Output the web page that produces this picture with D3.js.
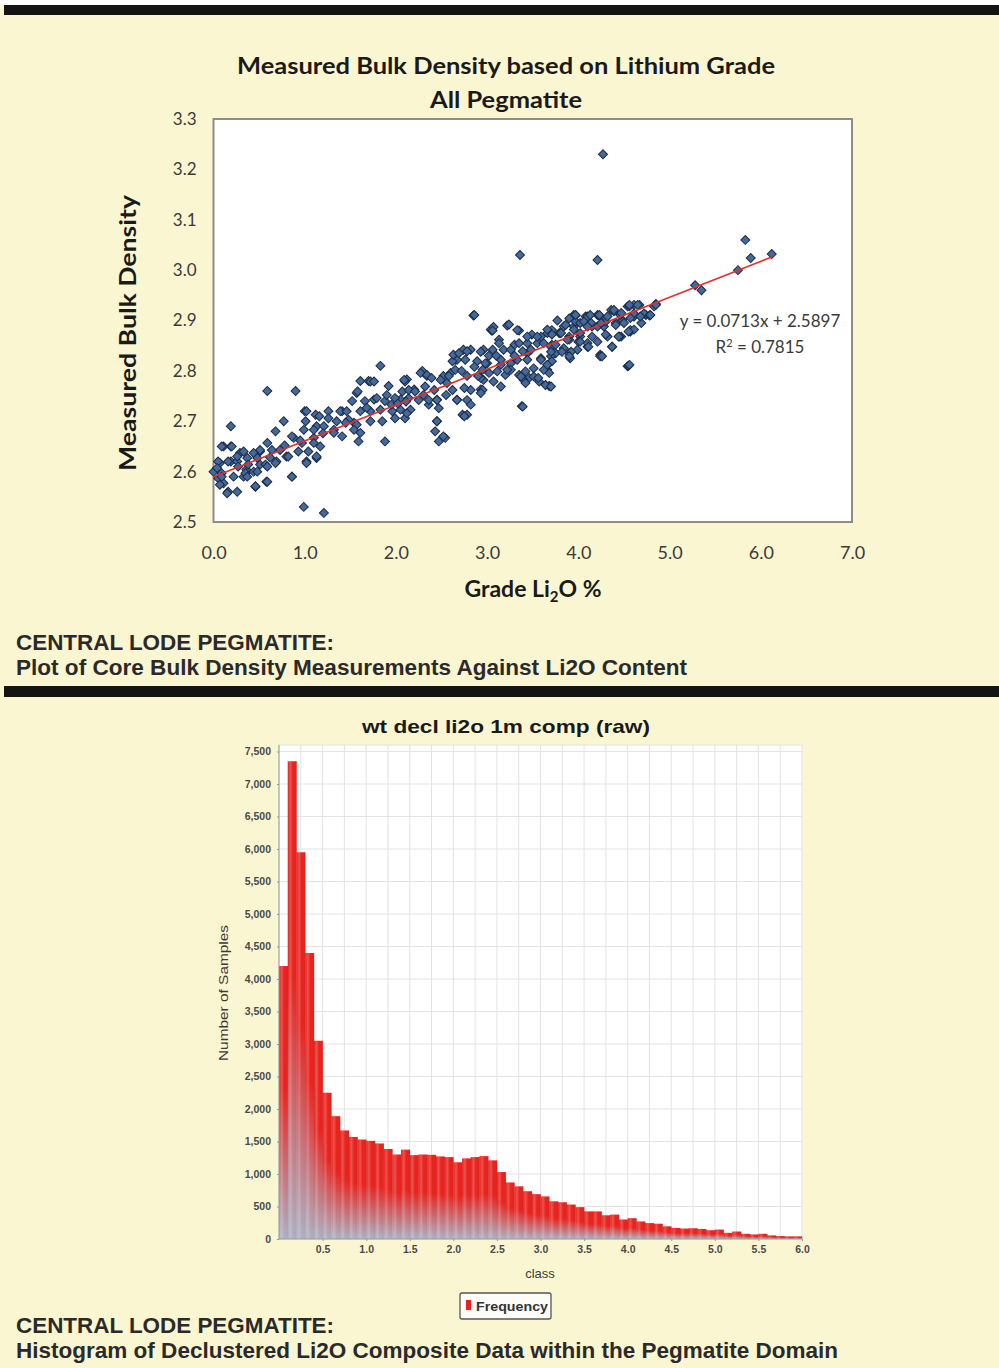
<!DOCTYPE html>
<html><head><meta charset="utf-8">
<script src="https://cdn.jsdelivr.net/npm/d3@7"></script>
<style>html,body{margin:0;padding:0;background:#fff;}svg{display:block;}</style>
</head><body>
<script>
// ---------- DATA ----------
const scatterTitle = ["Measured Bulk Density based on Lithium Grade", "All Pegmatite"];
const scatterXTicks = [0, 1, 2, 3, 4, 5, 6, 7];
const scatterYTicks = [2.5, 2.6, 2.7, 2.8, 2.9, 3.0, 3.1, 3.2, 3.3];
const trendSlope = 0.0713, trendIntercept = 2.5897, trendR2 = 0.7815;
// [Li2O grade %, measured bulk density]
const samples = [
[0.00,2.600],[0.07,2.617],[0.05,2.587],[0.11,2.577],[0.09,2.597],[0.16,2.560],[0.26,2.560],[0.19,2.690],[0.11,2.650],[0.19,2.650],
[0.19,2.620],[0.26,2.620],[0.29,2.637],[0.36,2.604],[0.33,2.590],[0.44,2.600],[0.46,2.570],[0.51,2.640],[0.51,2.614],[0.58,2.580],
[0.59,2.760],[0.59,2.657],[0.68,2.680],[0.69,2.620],[0.77,2.700],[0.80,2.630],[0.86,2.590],[0.90,2.760],[0.88,2.667],[0.99,2.530],
[1.21,2.518],[1.00,2.720],[1.02,2.620],[1.13,2.627],[1.12,2.713],[1.10,2.667],[1.26,2.720],[1.32,2.683],[1.41,2.720],[1.54,2.697],
[1.57,2.756],[1.61,2.780],[1.70,2.780],[1.59,2.660],[1.83,2.810],[1.76,2.743],[1.88,2.660],[1.85,2.700],[1.92,2.770],[2.05,2.743],
[2.12,2.783],[2.20,2.763],[2.29,2.800],[2.34,2.790],[2.36,2.733],[2.45,2.743],[2.47,2.660],[2.54,2.667],[2.45,2.700],[2.52,2.790],
[2.65,2.822],[2.67,2.743],[2.73,2.713],[2.74,2.842],[2.78,2.790],[2.85,2.910],[2.93,2.763],[3.05,2.880],[3.22,2.890],[3.35,2.880],
[3.38,2.730],[3.36,3.030],[3.77,2.900],[3.68,2.770],[3.97,2.910],
[1.72,2.779],[1.76,2.779],[1.58,2.759],[2.10,2.779],[2.07,2.759],[1.52,2.740],[1.66,2.740],[1.79,2.746],[1.88,2.740],[1.99,2.746],
[2.14,2.746],[1.61,2.720],[1.72,2.720],[1.83,2.723],[1.96,2.720],[2.05,2.723],[2.16,2.723],[1.39,2.720],[1.46,2.720],[1.02,2.720],
[1.99,2.706],[2.10,2.706],[1.72,2.700],[1.57,2.693],[1.48,2.703],[1.16,2.710],[1.26,2.706],[1.01,2.700],[1.13,2.690],[0.86,2.670],
[0.99,2.683],[1.10,2.683],[1.21,2.690],[1.32,2.677],[1.41,2.670],[1.54,2.683],[1.61,2.677],[0.97,2.657],[1.10,2.657],[1.17,2.650],
[0.09,2.650],[0.20,2.650],[0.33,2.640],[0.44,2.637],[0.51,2.643],[0.64,2.643],[0.73,2.643],[0.82,2.630],[0.93,2.640],[1.04,2.640],
[1.13,2.630],[0.26,2.630],[0.37,2.627],[0.48,2.627],[0.05,2.620],[0.16,2.620],[0.27,2.610],[0.38,2.614],[0.57,2.614],[0.68,2.617],
[1.02,2.617],[0.04,2.607],[0.35,2.597],[0.48,2.600],[0.59,2.610],[0.09,2.590],[0.22,2.590],[0.37,2.590],[0.86,2.590],[0.07,2.574],
[0.15,2.557],[0.46,2.571],[0.59,2.580],
[2.86,2.911],[3.24,2.892],[3.04,2.882],[3.13,2.862],[3.06,2.842],[2.96,2.842],[2.82,2.842],[2.76,2.822],[2.67,2.822],[2.62,2.819],
[2.89,2.819],[3.00,2.815],[3.15,2.812],[3.26,2.815],[3.33,2.822],[3.44,2.835],[3.55,2.855],[3.66,2.875],[3.79,2.875],[3.95,2.888],
[4.08,2.908],[4.21,2.911],[4.36,2.921],[4.54,2.928],[4.61,2.931],[4.74,2.911],[4.83,2.928],[3.95,2.911],[3.90,2.868],[4.02,2.868],
[4.15,2.888],[4.28,2.888],[4.41,2.895],[4.48,2.901],[4.61,2.908],[4.69,2.895],[4.57,2.878],[4.47,2.868],[4.32,2.868],[4.21,2.858],
[4.10,2.848],[3.99,2.842],[3.84,2.845],[3.71,2.852],[3.59,2.868],[3.49,2.872],[3.44,2.855],[3.30,2.852],[3.18,2.842],[3.39,2.839],
[3.59,2.825],[3.51,2.805],[3.42,2.799],[3.35,2.792],[3.46,2.786],[3.40,2.782],[3.57,2.779],[3.66,2.802],[3.64,2.772],[3.66,2.812],
[3.75,2.835],[3.91,2.825],[4.24,2.832],[4.37,2.848],[4.54,2.809],
[2.09,2.782],[2.14,2.762],[2.11,2.739],[2.12,2.716],[2.21,2.759],[2.27,2.796],[2.34,2.792],[2.39,2.786],[2.32,2.769],[2.42,2.762],
[2.36,2.742],[2.45,2.742],[2.47,2.726],[2.49,2.782],[2.60,2.796],[2.65,2.802],[2.63,2.832],[2.69,2.835],[2.78,2.839],[2.56,2.776],
[2.62,2.762],[2.67,2.742],[2.78,2.742],[2.82,2.762],[2.75,2.766],[2.95,2.802],[2.96,2.782],[2.95,2.762],[3.02,2.796],[3.11,2.799],
[3.20,2.792],[3.26,2.802],[3.07,2.779],[3.15,2.769],[2.93,2.756],[2.82,2.733],[2.78,2.713],[2.75,2.710],[2.45,2.700],[2.43,2.680],
[2.52,2.670],[3.39,2.729],[3.70,2.769],[3.68,2.796],
[3.07,2.887],[2.93,2.838],[2.98,2.815],[2.93,2.786],[3.13,2.855],[3.15,2.822],[3.26,2.842],[3.22,2.802],[3.33,2.881],[3.35,2.855],
[3.44,2.868],[3.48,2.842],[3.55,2.868],[3.44,2.822],[3.37,2.789],[3.42,2.776],[3.51,2.789],[3.56,2.786],[3.62,2.802],[3.70,2.829],
[3.71,2.881],[3.80,2.875],[3.84,2.888],[3.90,2.904],[3.97,2.898],[4.02,2.895],[4.02,2.875],[4.10,2.908],[4.14,2.895],[4.21,2.888],
[4.24,2.908],[4.30,2.898],[4.39,2.918],[4.46,2.911],[4.56,2.928],[4.61,2.914],[4.67,2.931],[4.72,2.914],[4.57,2.881],[4.45,2.868],
[4.37,2.848],[3.90,2.862],[3.90,2.835],[4.10,2.855],[4.00,2.858],[3.82,2.838],[3.70,2.848],
[4.27,3.230],[4.21,3.020],[5.83,3.060],[5.89,3.024],[6.12,3.032],[5.75,3.000],[5.28,2.970],[5.35,2.960],[4.85,2.933],[4.78,2.910],
[4.55,2.810],[4.24,2.829],[3.06,2.880],
[3.97,2.911],[4.13,2.911],[4.23,2.911],[4.39,2.921],[4.56,2.931],[4.65,2.931],[4.85,2.931],[3.66,2.882],[3.71,2.872],[3.86,2.891],
[4.06,2.898],[4.32,2.908],[4.47,2.915],[4.57,2.905],[4.68,2.908],[4.79,2.911],[3.81,2.875],[3.95,2.882],[4.10,2.888],[4.25,2.895],
[4.41,2.891],[4.50,2.895],[4.61,2.882],[3.62,2.855],[3.75,2.852],[3.88,2.862],[4.02,2.858],[4.15,2.868],[4.30,2.872],[4.44,2.868],
[4.55,2.878],[3.70,2.838],[3.92,2.838],[4.11,2.848],[3.59,2.822],[3.71,2.819],[3.90,2.829],[4.26,2.829],[4.56,2.812],[3.66,2.812],
[2.25,2.742],[2.30,2.752],[2.55,2.752],[2.58,2.790],[2.72,2.800],[2.86,2.808],[2.90,2.790],[3.02,2.830],[3.10,2.830],[3.30,2.830],
[1.95,2.733],[2.02,2.735],[1.90,2.752],[1.68,2.727],[1.45,2.697],[1.35,2.700],[1.20,2.676],[0.95,2.662],[0.78,2.652],[0.62,2.628]
];

const histTitle = "wt decl li2o 1m comp (raw)";
const binStart = [0.0,0.1,0.2,0.3,0.4,0.5,0.6,0.7,0.8,0.9,1.0,1.1,1.2,1.3,1.4,1.5,1.6,1.7,1.8,1.9,
2.0,2.1,2.2,2.3,2.4,2.5,2.6,2.7,2.8,2.9,3.0,3.1,3.2,3.3,3.4,3.5,3.6,3.7,3.8,3.9,
4.0,4.1,4.2,4.3,4.4,4.5,4.6,4.7,4.8,4.9,5.0,5.1,5.2,5.3,5.4,5.5,5.6,5.7,5.8,5.9];
const binWidth = 0.1;
const frequency = [4200,7350,5950,4400,3050,2250,1890,1670,1570,1530,1510,1470,1385,1300,1375,1290,1300,1295,1270,1260,
1180,1240,1260,1275,1210,1030,870,810,735,690,655,580,565,530,490,425,425,365,375,300,
320,270,245,235,195,170,160,165,155,135,145,95,115,80,70,80,55,45,40,40];
const histXTicks = [0.5,1.0,1.5,2.0,2.5,3.0,3.5,4.0,4.5,5.0,5.5,6.0];
const histYTicks = [0,500,1000,1500,2000,2500,3000,3500,4000,4500,5000,5500,6000,6500,7000,7500];
const histXGrid = [0.25,0.5,0.75,1,1.25,1.5,1.75,2,2.25,2.5,2.75,3,3.25,3.5,3.75,4,4.25,4.5,4.75,5,5.25,5.5,5.75];
const captionTop = ["CENTRAL LODE PEGMATITE:", "Plot of Core Bulk Density Measurements Against Li2O Content"];
const captionBottom = ["CENTRAL LODE PEGMATITE:", "Histogram of Declustered Li2O Composite Data within the Pegmatite Domain"];

// ---------- DRAW ----------
const W = 999, H = 1368;
const cream = "#fbf6d2";
const svg = d3.select("body").append("svg").attr("width", W).attr("height", H);
const defs = svg.append("defs");

svg.append("rect").attr("width", W).attr("height", H).attr("fill", cream);
svg.append("rect").attr("x", 0).attr("y", 0).attr("width", W).attr("height", 5).attr("fill", "#fff");
svg.append("rect").attr("x", 4).attr("y", 5).attr("width", W - 4).attr("height", 10).attr("fill", "#141414");
svg.append("rect").attr("x", 4).attr("y", 686).attr("width", W - 4).attr("height", 11).attr("fill", "#141414");

const calibri = "Lato, 'Open Sans', sans-serif";
const arialN = "'Liberation Sans', Arial, sans-serif";

// ---- Scatter ----
const sx = d3.scaleLinear().domain([0, 7]).range([213.5, 852]);
const sy = d3.scaleLinear().domain([2.5, 3.3]).range([522, 119]);

svg.selectAll(".stitle").data(scatterTitle).join("text")
  .attr("x", 506).attr("y", (d, i) => 74 + i * 34)
  .attr("text-anchor", "middle").attr("font-family", calibri).attr("font-weight", 700)
  .attr("font-size", 22).attr("fill", "#1a1a1a")
  .attr("textLength", (d, i) => i === 0 ? 538 : 152).attr("lengthAdjust", "spacingAndGlyphs")
  .text(d => d);

svg.append("rect").attr("x", sx(0)).attr("y", sy(3.3))
  .attr("width", sx(7) - sx(0)).attr("height", sy(2.5) - sy(3.3))
  .attr("fill", "#fff").attr("stroke", "#8c8c8c").attr("stroke-width", 2);

const yAx = svg.append("g").attr("transform", `translate(${sx(0)},0)`)
  .call(d3.axisLeft(sy).tickValues(scatterYTicks).tickSize(0).tickPadding(17).tickFormat(d3.format(".1f")));
yAx.select(".domain").remove();
yAx.selectAll("text").attr("font-family", calibri).attr("font-size", 17).attr("fill", "#3a3a3a");

const xAx = svg.append("g").attr("transform", `translate(0,${sy(2.5)})`)
  .call(d3.axisBottom(sx).tickValues(scatterXTicks).tickSize(0).tickPadding(24).tickFormat(d3.format(".1f")));
xAx.select(".domain").remove();
xAx.selectAll("text").attr("font-family", calibri).attr("font-size", 18).attr("fill", "#3a3a3a");

const xTitle = svg.append("text").attr("x", 533).attr("y", 597).attr("text-anchor", "middle")
  .attr("font-family", calibri).attr("font-weight", 700).attr("font-size", 23).attr("fill", "#1a1a1a");
xTitle.append("tspan").text("Grade Li");
xTitle.append("tspan").attr("font-size", 15).attr("dy", 5).text("2");
xTitle.append("tspan").attr("dy", -5).text("O %");

svg.append("text").attr("transform", "translate(136,333) rotate(-90)").attr("text-anchor", "middle")
  .attr("font-family", calibri).attr("font-weight", 700).attr("font-size", 23).attr("fill", "#1a1a1a")
  .attr("textLength", 276).attr("lengthAdjust", "spacingAndGlyphs")
  .text("Measured Bulk Density");

const diamond = d3.symbol().type(d3.symbolSquare).size(40);
svg.append("g").selectAll("path").data(samples).join("path")
  .attr("d", diamond)
  .attr("transform", d => `translate(${sx(d[0])},${sy(d[1])}) rotate(45)`)
  .attr("fill", "#44699c").attr("stroke", "#1c2b44").attr("stroke-width", 1);

const xMax = d3.max(samples, d => d[0]);
svg.append("line")
  .attr("x1", sx(0)).attr("y1", sy(trendIntercept))
  .attr("x2", sx(xMax)).attr("y2", sy(trendIntercept + trendSlope * xMax))
  .attr("stroke", "#e3302b").attr("stroke-width", 1.6);

svg.append("text").attr("x", 760).attr("y", 327).attr("text-anchor", "middle")
  .attr("font-family", calibri).attr("font-size", 17).attr("fill", "#3a3a3a")
  .text(`y = ${trendSlope}x + ${trendIntercept}`);
const r2 = svg.append("text").attr("x", 760).attr("y", 353).attr("text-anchor", "middle")
  .attr("font-family", calibri).attr("font-size", 17).attr("fill", "#3a3a3a");
r2.append("tspan").text("R");
r2.append("tspan").attr("font-size", 11).attr("dy", -6).text("2");
r2.append("tspan").attr("dy", 6).text(` = ${trendR2}`);

function caption(lines, y0, widths) {
  svg.selectAll(null).data(lines).join("text")
    .attr("x", 16).attr("y", (d, i) => y0 + i * 25)
    .attr("font-family", arialN).attr("font-weight", 700).attr("font-size", 21.5).attr("fill", "#2a2a2a")
    .attr("textLength", (d, i) => widths[i])
    .attr("lengthAdjust", "spacingAndGlyphs")
    .text(d => d);
}
caption(captionTop, 650, [318, 671]);

// ---- Histogram ----
const hx = d3.scaleLinear().domain([0, 6]).range([279, 802]);
const hy = d3.scaleLinear().domain([0, 7600]).range([1239, 745]);

svg.append("text").attr("x", 506).attr("y", 733).attr("text-anchor", "middle")
  .attr("font-family", arialN).attr("font-weight", 700).attr("font-size", 19).attr("fill", "#1a1a1a")
  .attr("textLength", 288).attr("lengthAdjust", "spacingAndGlyphs").text(histTitle);

svg.append("rect").attr("x", hx(0)).attr("y", hy(7600)).attr("width", hx(6) - hx(0)).attr("height", hy(0) - hy(7600))
  .attr("fill", "#fff").attr("stroke", "#e2e2e2");

const grid = svg.append("g").attr("stroke", "#e3e3e6").attr("stroke-width", 1);
grid.selectAll(".gx").data(histXGrid).join("line")
  .attr("x1", d => hx(d)).attr("x2", d => hx(d)).attr("y1", hy(7600)).attr("y2", hy(0));
grid.selectAll(".gy").data(histYTicks.slice(1)).join("line")
  .attr("x1", hx(0)).attr("x2", hx(6)).attr("y1", d => hy(d)).attr("y2", d => hy(d));

const vg = defs.append("linearGradient").attr("id", "barGrad").attr("x1", 0).attr("y1", 0).attr("x2", 0).attr("y2", 1);
vg.append("stop").attr("offset", 0).attr("stop-color", "#e8221d");
vg.append("stop").attr("offset", 0.45).attr("stop-color", "#e8231e");
vg.append("stop").attr("offset", 1).attr("stop-color", "#adb1c3");
const hg = defs.append("linearGradient").attr("id", "stripeGrad").attr("x1", 0).attr("y1", 0).attr("x2", 1).attr("y2", 0);
hg.append("stop").attr("offset", 0).attr("stop-color", "#fff").attr("stop-opacity", 0);
hg.append("stop").attr("offset", 0.3).attr("stop-color", "#fff").attr("stop-opacity", 0.22);
hg.append("stop").attr("offset", 0.6).attr("stop-color", "#fff").attr("stop-opacity", 0);
hg.append("stop").attr("offset", 1).attr("stop-color", "#000").attr("stop-opacity", 0.04);

const bins = binStart.map((s, i) => ({ s, f: frequency[i] }));
const barG = svg.append("g");
barG.selectAll(".bar").data(bins).join("rect")
  .attr("x", d => hx(d.s)).attr("width", d => hx(d.s + binWidth) - hx(d.s) + 0.3)
  .attr("y", d => hy(d.f)).attr("height", d => hy(0) - hy(d.f))
  .attr("fill", "url(#barGrad)");
barG.selectAll(".stripe").data(bins).join("rect")
  .attr("x", d => hx(d.s)).attr("width", d => hx(d.s + binWidth) - hx(d.s))
  .attr("y", d => hy(d.f)).attr("height", d => hy(0) - hy(d.f))
  .attr("fill", "url(#stripeGrad)");

svg.append("line").attr("x1", hx(0)).attr("x2", hx(0)).attr("y1", hy(7600)).attr("y2", hy(0)).attr("stroke", "#9a9a9a");
svg.append("line").attr("x1", hx(0)).attr("x2", hx(6)).attr("y1", hy(0)).attr("y2", hy(0)).attr("stroke", "#9a9a9a");

const hyAx = svg.append("g").attr("transform", `translate(${hx(0)},0)`)
  .call(d3.axisLeft(hy).tickValues(histYTicks).tickSize(2).tickPadding(6).tickFormat(d3.format(",")));
hyAx.select(".domain").remove();
hyAx.selectAll("line").attr("stroke", "#999");
hyAx.selectAll("text").attr("font-family", arialN).attr("font-weight", 700).attr("font-size", 10.5).attr("fill", "#4a4a4a");

const hxAx = svg.append("g").attr("transform", `translate(0,${hy(0)})`)
  .call(d3.axisBottom(hx).tickValues(histXTicks).tickSize(2).tickPadding(5).tickFormat(d3.format(".1f")));
hxAx.select(".domain").remove();
hxAx.selectAll("line").attr("stroke", "#999");
hxAx.selectAll("text").attr("font-family", arialN).attr("font-weight", 700).attr("font-size", 10.5).attr("fill", "#4a4a4a");

svg.append("text").attr("x", 540).attr("y", 1278).attr("text-anchor", "middle")
  .attr("font-family", arialN).attr("font-size", 13).attr("fill", "#3a3a3a").text("class");

svg.append("text").attr("transform", "translate(228,993) rotate(-90)").attr("text-anchor", "middle")
  .attr("font-family", arialN).attr("font-size", 12).attr("fill", "#3a3a3a")
  .attr("textLength", 136).attr("lengthAdjust", "spacingAndGlyphs").text("Number of Samples");

// legend
svg.append("rect").attr("x", 460).attr("y", 1293).attr("width", 91).attr("height", 26).attr("rx", 2)
  .attr("fill", "#fbfbf8").attr("stroke", "#555").attr("stroke-width", 1.3);
svg.append("rect").attr("x", 466).attr("y", 1300).attr("width", 5).attr("height", 10).attr("fill", "#e8231e");
svg.append("text").attr("x", 476).attr("y", 1311).attr("font-family", arialN).attr("font-weight", 700)
  .attr("font-size", 13).attr("fill", "#333").attr("textLength", 72).attr("lengthAdjust", "spacingAndGlyphs").text("Frequency");

caption(captionBottom, 1333, [318, 822]);
</script>
</body></html>
